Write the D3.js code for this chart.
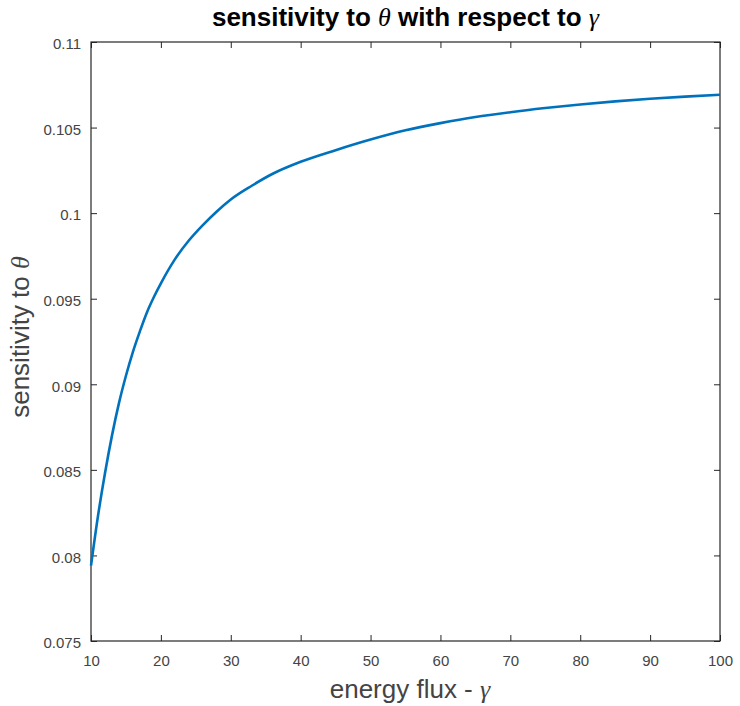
<!DOCTYPE html>
<html>
<head>
<meta charset="utf-8">
<script src="https://cdn.jsdelivr.net/npm/d3@7"></script>
<style>
  body { margin: 0; background: #fff; }
  svg { font-family: "Liberation Sans", Arial, sans-serif; }
</style>
</head>
<body>
<svg id="chart" width="740" height="706"></svg>
<script>
// values
const gammaValues = [10, 11, 12, 13, 14, 15, 16, 17, 18, 19, 20, 22, 24, 26, 28, 30, 33, 36, 40, 45,
                     50, 55, 60, 65, 70, 75, 80, 85, 90, 95, 100];
const sensValues  = [0.0794, 0.0823, 0.0848, 0.0870, 0.0889, 0.0905, 0.0919, 0.0931, 0.0942, 0.0951,
                     0.0959, 0.0973, 0.0984, 0.0993, 0.1001, 0.1008, 0.1016, 0.1023, 0.1030, 0.10368,
                     0.10430, 0.10484, 0.10526, 0.10562, 0.10590, 0.10614, 0.10635, 0.10653, 0.10668, 0.10681, 0.10692];
const xTicks = [10, 20, 30, 40, 50, 60, 70, 80, 90, 100];
const yTicks = [0.075, 0.08, 0.085, 0.09, 0.095, 0.1, 0.105, 0.11];

const data = gammaValues.map(function (g, i) { return { gamma: g, sens: sensValues[i] }; });

let chart = d3.select("#chart");
const plotLeft = 91, plotRight = 720, plotTop = 42, plotBottom = 641;
const axisColor = "#262626";
const labelColor = "#444";
const symbolFont = "Liberation Serif, serif";

// scales
let x = d3.scaleLinear().domain([10, 100]).range([plotLeft, plotRight]);
let y = d3.scaleLinear().domain([0.075, 0.11]).range([plotBottom, plotTop]);

// x axis (bottom, ticks inward)
chart.append("g")
    .attr("transform", "translate(0," + plotBottom + ")")
    .call(d3.axisBottom(x).tickValues(xTicks).tickSizeInner(-6).tickSizeOuter(0).tickPadding(14).tickFormat(d3.format("d")))
    .call(g => g.select(".domain").remove())
    .call(g => g.selectAll("line").attr("stroke", axisColor))
    .call(g => g.selectAll("text").attr("fill", labelColor).attr("font-size", 15));

// top ticks
chart.append("g")
    .attr("transform", "translate(0," + plotTop + ")")
    .call(d3.axisTop(x).tickValues(xTicks).tickSizeInner(-6).tickSizeOuter(0).tickFormat(""))
    .call(g => g.select(".domain").remove())
    .call(g => g.selectAll("line").attr("stroke", axisColor));

// y axis (left, ticks inward)
chart.append("g")
    .attr("transform", "translate(" + plotLeft + ",0)")
    .call(d3.axisLeft(y).tickValues(yTicks).tickSizeInner(-6).tickSizeOuter(0).tickPadding(10).tickFormat(d => String(+d.toFixed(3))))
    .call(g => g.select(".domain").remove())
    .call(g => g.selectAll("line").attr("stroke", axisColor))
    .call(g => g.selectAll("text").attr("fill", labelColor).attr("font-size", 15).attr("dy", "0.45em"));

// right ticks
chart.append("g")
    .attr("transform", "translate(" + plotRight + ",0)")
    .call(d3.axisRight(y).tickValues(yTicks).tickSizeInner(-6).tickSizeOuter(0).tickFormat(""))
    .call(g => g.select(".domain").remove())
    .call(g => g.selectAll("line").attr("stroke", axisColor));

// box
chart.append("rect")
    .attr("x", plotLeft).attr("y", plotTop)
    .attr("width", plotRight - plotLeft).attr("height", plotBottom - plotTop)
    .attr("fill", "none").attr("stroke", axisColor).attr("stroke-width", 1.2);

// the curve
let line = d3.line()
    .x(d => x(d.gamma))
    .y(d => y(d.sens))
    .curve(d3.curveMonotoneX);

chart.append("path")
    .datum(data)
    .attr("d", line)
    .attr("fill", "none")
    .attr("stroke", "#0072BD")
    .attr("stroke-width", 2.6);

// title
let title = chart.append("text")
    .attr("x", (plotLeft + plotRight) / 2)
    .attr("y", 26)
    .attr("text-anchor", "middle")
    .attr("font-size", 26)
    .attr("font-weight", "bold")
    .attr("fill", "#000");
title.append("tspan").text("sensitivity to ");
title.append("tspan").attr("font-family", symbolFont).attr("font-style", "italic").attr("font-weight", "normal").text("θ");
title.append("tspan").text(" with respect to ");
title.append("tspan").attr("font-family", symbolFont).attr("font-style", "italic").attr("font-weight", "normal").text("γ");

// x label
let xLabel = chart.append("text")
    .attr("x", 410)
    .attr("y", 698)
    .attr("text-anchor", "middle")
    .attr("font-size", 26)
    .attr("fill", labelColor);
xLabel.append("tspan").text("energy flux - ");
xLabel.append("tspan").attr("font-family", symbolFont).attr("font-style", "italic").text("γ");

// y label
let yLabel = chart.append("text")
    .attr("transform", "translate(29,337) rotate(-90)")
    .attr("text-anchor", "middle")
    .attr("font-size", 26)
    .attr("fill", labelColor);
yLabel.append("tspan").text("sensitivity to ");
yLabel.append("tspan").attr("font-family", symbolFont).attr("font-style", "italic").text("θ");
</script>
</body>
</html>
